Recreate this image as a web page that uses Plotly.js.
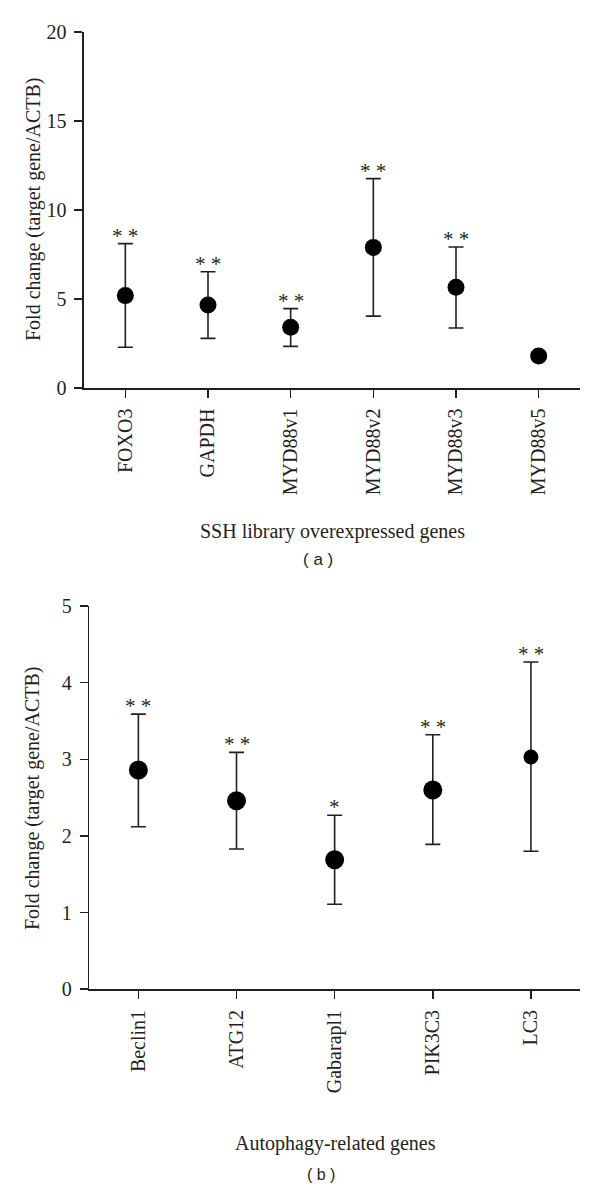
<!DOCTYPE html>
<html>
<head>
<meta charset="utf-8">
<script src="https://cdn.plot.ly/plotly-3.0.1.min.js"></script>
<style>
	body { margin: 0; background: #fff; }
	#chart { width: 600px; height: 1186px; }
</style>
</head>
<body>
<div id="chart"></div>
<script>
// Panel (a): SSH library overexpressed genes
var genesA 	= [ "FOXO3", "GAPDH", "MYD88v1", "MYD88v2", "MYD88v3", "MYD88v5" ],
	meanA 	= [ 5.19, 4.66, 3.41, 7.90, 5.66, 1.80 ],
	upperA 	= [ 8.11, 6.53, 4.46, 11.76, 7.92, 2.00 ],
	lowerA 	= [ 2.29, 2.79, 2.34, 4.04, 3.37, 1.60 ],
	starsA 	= [ "* *", "* *", "* *", "* *", "* *", "" ];

// Panel (b): autophagy-related genes
var genesB 	= [ "Beclin1", "ATG12", "Gabarapl1", "PIK3C3", "LC3" ],
	meanB 	= [ 2.86, 2.46, 1.69, 2.60, 3.03 ],
	upperB 	= [ 3.59, 3.09, 2.27, 3.32, 4.27 ],
	lowerB 	= [ 2.12, 1.83, 1.11, 1.89, 1.80 ],
	starsB 	= [ "* *", "* *", "*", "* *", "* *" ];

var ink = "#231f20",
	serif = "Liberation Serif, Times New Roman, serif";

function errTrace( genes, mean, upper, lower, xa, ya, sizes )
{
	return {
		x: genes,
		y: mean,
		xaxis: xa,
		yaxis: ya,
		type: "scatter",
		mode: "markers",
		marker: { color: "#000", size: sizes, opacity: 1, line: { width: 0 } },	// opacity: array sizes default to 0.7
		error_y: {
			type: "data",
			symmetric: false,
			array: upper.map( ( u, i ) => u - mean[ i ] ),
			arrayminus: lower.map( ( l, i ) => mean[ i ] - l ),
			color: ink,
			thickness: 1.6,
			width: 7.5
		},
		showlegend: false,
		hoverinfo: "skip"
	};
}

var data = [
	errTrace( genesA, meanA, upperA, lowerA, "x", "y", 17 ),
	errTrace( genesB, meanB, upperB, lowerB, "x2", "y2", [ 19, 19, 19, 19, 15 ] )
];

var annotations = [];
function addStars( genes, upper, stars, xa, ya )
{
	for( let i = 0; i < genes.length; i++ )
	{
		if( !stars[ i ] )
			continue;
		annotations.push( {
			x: genes[ i ], y: upper[ i ], xref: xa, yref: ya,
			text: stars[ i ], showarrow: false,
			yanchor: "bottom", yshift: -6,
			font: { family: serif, size: 21, color: ink }
		} );
	}
}
addStars( genesA, upperA, starsA, "x", "y" );
addStars( genesB, upperB, starsB, "x2", "y2" );

function paperText( text, x, y, size, family, angle )
{
	annotations.push( {
		text: text, x: x, y: y, xref: "paper", yref: "paper",
		xanchor: "center", yanchor: "middle", showarrow: false,
		textangle: angle || 0,
		font: { family: family, size: size, color: ink }
	} );
}
// axis titles and panel letters
paperText( "Fold change (target gene/ACTB)", 33 / 600, 1 - 210 / 1186, 20, serif, -90 );
paperText( "Fold change (target gene/ACTB)", 33 / 600, 1 - 799 / 1186, 20, serif, -90 );
paperText( "SSH library overexpressed genes", 332 / 600, 1 - 531 / 1186, 20, serif );
paperText( "Autophagy-related genes", 335 / 600, 1 - 1143 / 1186, 20, serif );
paperText( "( a )", 318 / 600, 1 - 560 / 1186, 17, "Liberation Sans, Arial, sans-serif" );
paperText( "( b )", 321 / 600, 1 - 1174 / 1186, 16, "Liberation Sans, Arial, sans-serif" );

var xCommon = {
	type: "category",
	showline: true, linecolor: ink, linewidth: 1.6,
	ticks: "outside", ticklen: 8, tickwidth: 1.6, tickcolor: ink,
	tickangle: -90,
	ticklabelstandoff: 3,
	showgrid: false, zeroline: false,
	tickfont: { family: serif, size: 20, color: ink },
	fixedrange: true
};
var yCommon = {
	showline: true, linecolor: ink, linewidth: 1.6,
	ticks: "outside", ticklen: 8, tickwidth: 1.6, tickcolor: ink,
	ticklabelstandoff: 4,
	showgrid: false, zeroline: false,
	tickfont: { family: serif, size: 20, color: ink },
	fixedrange: true
};

var layout = {
	width: 600,
	height: 1186,
	margin: { l: 0, r: 0, t: 0, b: 0 },
	paper_bgcolor: "#fff",
	plot_bgcolor: "#fff",
	xaxis: Object.assign( {}, xCommon, { domain: [ 84 / 600, 580 / 600 ], range: [ -0.5, 5.5 ], anchor: "y" } ),
	yaxis: Object.assign( {}, yCommon, { domain: [ 1 - 388 / 1186, 1 - 32 / 1186 ], range: [ 0, 20 ], tickvals: [ 0, 5, 10, 15, 20 ], anchor: "x" } ),
	xaxis2: Object.assign( {}, xCommon, { domain: [ 89.3 / 600, 580 / 600 ], range: [ -0.5, 4.5 ], anchor: "y2" } ),
	yaxis2: Object.assign( {}, yCommon, { domain: [ 1 - 989.3 / 1186, 1 - 606 / 1186 ], range: [ 0, 5 ], tickvals: [ 0, 1, 2, 3, 4, 5 ], anchor: "x2" } ),
	annotations: annotations
};

Plotly.newPlot( "chart", data, layout, { staticPlot: true } );
</script>
</body>
</html>
